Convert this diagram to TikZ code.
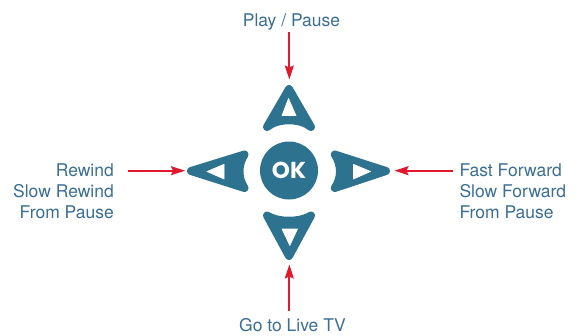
\documentclass[tikz,border=0pt]{standalone}
\usepackage{fontspec}
\setmainfont{TeX Gyre Heros}
\newfontfamily\okfont{Poppins}
\usetikzlibrary{arrows.meta}
\definecolor{btn}{HTML}{2D738F}
\definecolor{lbl}{HTML}{3A6E93}
\definecolor{redarr}{HTML}{E0192F}
\begin{document}
\begin{tikzpicture}[x=1pt,y=-1pt,
  btnshape/.style={fill=btn,draw=btn,line width=8pt,line join=round},
  glyph/.style={fill=white,draw=white,line width=0.6pt,line join=round},
  lab/.style={text=lbl,font=\fontsize{17.5}{21.2}\selectfont,inner sep=0pt},
  redarrow/.style={draw=redarr,line width=1.8pt,-{Stealth[length=14pt,width=9pt,inset=2pt]}}]
\useasboundingbox (0,0) rectangle (577,335);

% buttons
\path[btnshape] (289,89) -- (311,127) .. controls (300,118) and (278,118) .. (267,127) -- cycle;
\path[btnshape] (267,215.5) .. controls (278,222.5) and (300,222.5) .. (311,215.5) -- (289,256) -- cycle;
\path[btnshape] (191,171) -- (244.5,154.5) .. controls (237.8,165) and (237.8,178) .. (244.5,188) -- cycle;
\path[btnshape] (386,171) -- (334.8,154.5) .. controls (341.7,165) and (341.7,178) .. (334.8,188) -- cycle;

% glyphs
\path[glyph] (288.5,98.5) -- (282,115.5) -- (296,115.5) -- cycle;
\path[glyph] (282,229) -- (297.5,229) -- (289.8,245.5) -- cycle;
\path[glyph] (207,171.5) -- (224,164.3) -- (224,179) -- cycle;
\path[glyph] (353.5,164.3) -- (353.5,179) -- (370.5,171.5) -- cycle;

\node[circle,fill=btn,minimum size=58pt,inner sep=0pt,text=white,
      font=\okfont\bfseries\fontsize{23}{23}\selectfont] (ok) at (289,170.5) {\raisebox{-1.5pt}{OK}};

% tips of the buttons
\coordinate (upTip) at (289.3,85);
\coordinate (downTip) at (289.3,260);
\coordinate (leftTip) at (187,170.7);
\coordinate (rightTip) at (390,170.7);

% labels
\node[lab,anchor=base] (play) at (291.5,26) {Play / Pause};
\node[lab,anchor=base] (live) at (292.5,331.5) {Go to Live TV};
\node[lab,anchor=base east] (rew) at (114,176)
  {\begin{tabular}[t]{@{}r@{}}Rewind\\Slow Rewind\\From Pause\end{tabular}};
\node[lab,anchor=base west] (ff) at (459.3,176)
  {\begin{tabular}[t]{@{}l@{}}Fast Forward\\Slow Forward\\From Pause\end{tabular}};

% arrows
\draw[redarrow,shorten <=2pt,shorten >=5.5pt] (play.south -| upTip) -- (upTip);
\draw[redarrow,shorten <=7.5pt,shorten >=4.5pt] (live.north -| downTip) -- (downTip);
\draw[redarrow,shorten <=14pt,shorten >=2pt] (rew.east |- leftTip) -- (leftTip);
\draw[redarrow,shorten <=6pt,shorten >=4.5pt] (ff.west |- rightTip) -- (rightTip);
\end{tikzpicture}
\end{document}
